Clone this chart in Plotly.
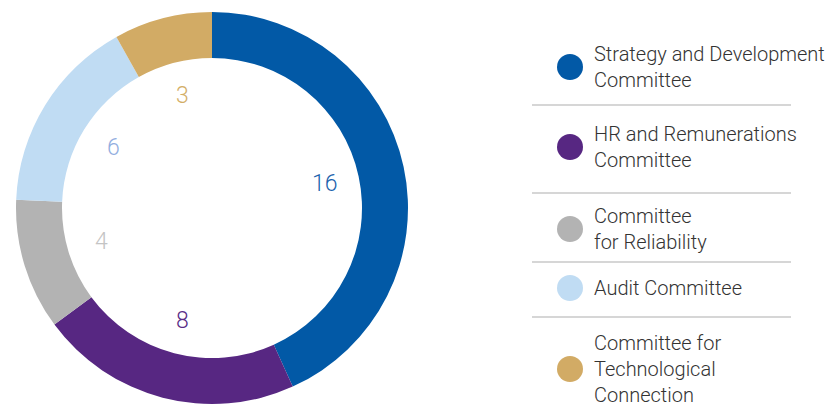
import math
import plotly.graph_objects as go

# ---- data ----
categories = [
    "Strategy and Development<br>Committee",
    "HR and Remunerations<br>Committee",
    "Committee<br>for Reliability",
    "Audit Committee",
    "Committee for<br>Technological<br>Connection",
]
values = [16, 8, 4, 6, 3]
slice_colors = ["#0259a6", "#572782", "#b3b3b3", "#c0dcf3", "#d2ab65"]
label_colors = ["#1c63ad", "#5a2d87", "#c4c4c4", "#92aee0", "#d3ae66"]

# ---- layout constants (pixels) ----
W, H = 834, 409
cx, cy, R_out, R_in = 212, 208, 196, 150
label_r = 116
legend_marker_x = 570
legend_text_x = 592
legend_marker_y = [67, 147, 229, 288, 369]
legend_sep_y = [105, 193, 262, 317]

fig = go.Figure()

fig.add_trace(go.Pie(
    values=values,
    labels=[c.replace("<br>", " ") for c in categories],
    marker=dict(colors=slice_colors, line=dict(width=0)),
    hole=R_in / R_out,
    sort=False,
    direction="clockwise",
    rotation=0,
    textinfo="none",
    hoverinfo="label+value",
    showlegend=False,
    domain=dict(x=[(cx - R_out) / W, (cx + R_out) / W],
                y=[1 - (cy + R_out) / H, 1 - (cy - R_out) / H]),
))

# legend markers
fig.add_trace(go.Scatter(
    x=[legend_marker_x] * len(values),
    y=legend_marker_y,
    mode="markers",
    marker=dict(size=26, color=slice_colors, line=dict(width=0)),
    hoverinfo="skip",
    showlegend=False,
    xaxis="x", yaxis="y",
))

annotations = []
# value labels inside the hole
total = sum(values)
cum = 0
for v, col in zip(values, label_colors):
    mid = (cum + v / 2) / total * 2 * math.pi
    cum += v
    x = cx + label_r * math.sin(mid)
    y = cy - label_r * math.cos(mid)
    annotations.append(dict(
        x=x, y=y, xref="x", yref="y", text=str(v), showarrow=False,
        font=dict(family="Roboto, Liberation Sans, Arial, sans-serif", size=23,
                  color=col, weight=300),
        xanchor="center", yanchor="middle",
    ))

# legend texts
for cat, my in zip(categories, legend_marker_y):
    annotations.append(dict(
        x=legend_text_x, y=my, xref="x", yref="y", text=cat, showarrow=False,
        font=dict(family="Roboto, Liberation Sans, Arial, sans-serif", size=20,
                  color="#333333", weight=300),
        xanchor="left", yanchor="middle", align="left",
    ))

shapes = []
for sy in legend_sep_y:
    shapes.append(dict(type="line", xref="x", yref="y", x0=532, x1=791, y0=sy, y1=sy,
                       line=dict(color="#c8c8c8", width=1.5)))

fig.update_layout(
    width=W, height=H,
    margin=dict(l=0, r=0, t=0, b=0),
    paper_bgcolor="white", plot_bgcolor="rgba(0,0,0,0)",
    xaxis=dict(range=[0, W], visible=False, fixedrange=True, domain=[0, 1]),
    yaxis=dict(range=[H, 0], visible=False, fixedrange=True, domain=[0, 1]),
    annotations=annotations,
    shapes=shapes,
    showlegend=False,
)

fig.write_html(
    "out.html",
    config={"displayModeBar": False},
    post_script="document.body.style.margin='0px';document.body.style.overflow='hidden';",
)
